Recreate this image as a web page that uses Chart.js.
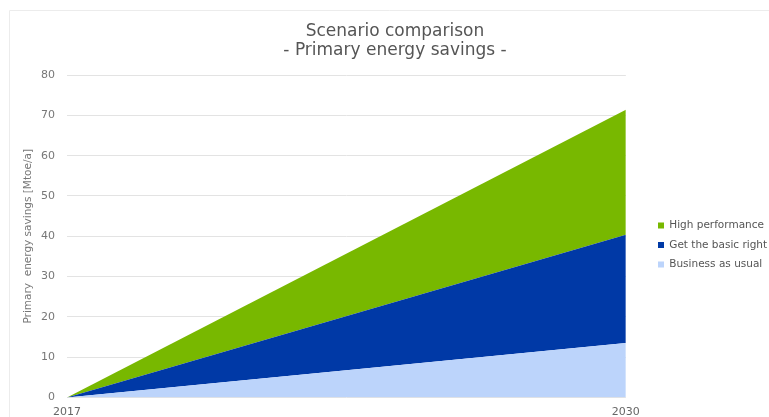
<!DOCTYPE html>
<html>
<head>
<meta charset="utf-8">
<script src="https://cdn.jsdelivr.net/npm/chart.js@4"></script>
<style>
  html, body { margin: 0; padding: 0; background: #fff; }
  #wrap { width: 769px; height: 417px; position: relative; }
</style>
</head>
<body>
<div id="wrap"><canvas id="c" width="769" height="417"></canvas></div>
<script>
const years = ['2017', '2030'];
const businessAsUsual = [0, 13.5];
const getTheBasicRight = [0, 40.4];
const highPerformance = [0, 71.4];
const seriesNames = ['Business as usual', 'Get the basic right', 'High performance'];
const titleLines = ['Scenario comparison', '- Primary energy savings -'];
const yAxisTitle = 'Primary  energy savings [Mtoe/a]';

const LEGEND_PAD = 9;

const framePlugin = {
  id: 'frame',
  beforeDraw(chart) {
    const ctx = chart.ctx;
    ctx.save();
    ctx.strokeStyle = '#ececec';
    ctx.lineWidth = 1;
    ctx.beginPath();
    ctx.moveTo(9.5, 417);
    ctx.lineTo(9.5, 10.5);
    ctx.lineTo(769, 10.5);
    ctx.stroke();
    ctx.restore();
  }
};

const placeBlocks = {
  id: 'placeBlocks',
  afterLayout(chart) {
    const lg = chart.legend;
    if (lg) {
      const w = lg.width;
      lg.left = 658 - LEGEND_PAD;
      lg.right = lg.left + w;
      const h = lg.bottom - lg.top;
      const curCenter = (lg.top + lg.bottom) / 2;
      lg.top += 245 - curCenter;
      lg.bottom = lg.top + h;
    }
    const tb = chart.titleBlock;
    if (tb) {
      tb.left += 7;
      tb.right += 7;
    }
  }
};

new Chart(document.getElementById('c'), {
  type: 'line',
  data: {
    labels: years,
    datasets: [
      { label: seriesNames[0], data: businessAsUsual, backgroundColor: '#bcd4fb', borderWidth: 0, pointRadius: 0, fill: 'origin' },
      { label: seriesNames[1], data: getTheBasicRight, backgroundColor: '#0039a6', borderWidth: 0, pointRadius: 0, fill: '-1' },
      { label: seriesNames[2], data: highPerformance, backgroundColor: '#78b800', borderWidth: 0, pointRadius: 0, fill: '-1' }
    ]
  },
  options: {
    responsive: false,
    animation: false,
    layout: { padding: { left: 22, right: 15, top: 0, bottom: 0 } },
    plugins: {
      tooltip: { enabled: false },
      title: {
        display: true,
        text: titleLines,
        color: '#555',
        font: { family: 'DejaVu Sans', size: 17, weight: 'normal', lineHeight: 1.12 },
        padding: { top: 22, bottom: 15 }
      },
      legend: {
        position: 'right',
        reverse: true,
        labels: {
          color: '#555',
          boxWidth: 6,
          boxHeight: 6,
          padding: LEGEND_PAD,
          font: { family: 'DejaVu Sans', size: 10.5 }
        }
      }
    },
    scales: {
      x: {
        type: 'category',
        offset: false,
        grid: { display: false },
        border: { display: false },
        ticks: { color: '#666', font: { family: 'DejaVu Sans', size: 11 }, maxRotation: 0, padding: 0 },
        afterFit(scale) { scale.height = 19.5; }
      },
      y: {
        min: 0,
        max: 80,
        ticks: { stepSize: 10, color: '#777', font: { family: 'DejaVu Sans', size: 11 }, padding: 12 },
        grid: { color: '#e3e3e3', drawTicks: false },
        border: { display: false },
        title: {
          display: true,
          text: yAxisTitle,
          color: '#777',
          font: { family: 'DejaVu Sans', size: 10.5 },
          padding: { top: 0, bottom: 4 }
        },
        afterFit(scale) { scale.width = 45; }
      }
    }
  },
  plugins: [framePlugin, placeBlocks]
});
</script>
</body>
</html>
